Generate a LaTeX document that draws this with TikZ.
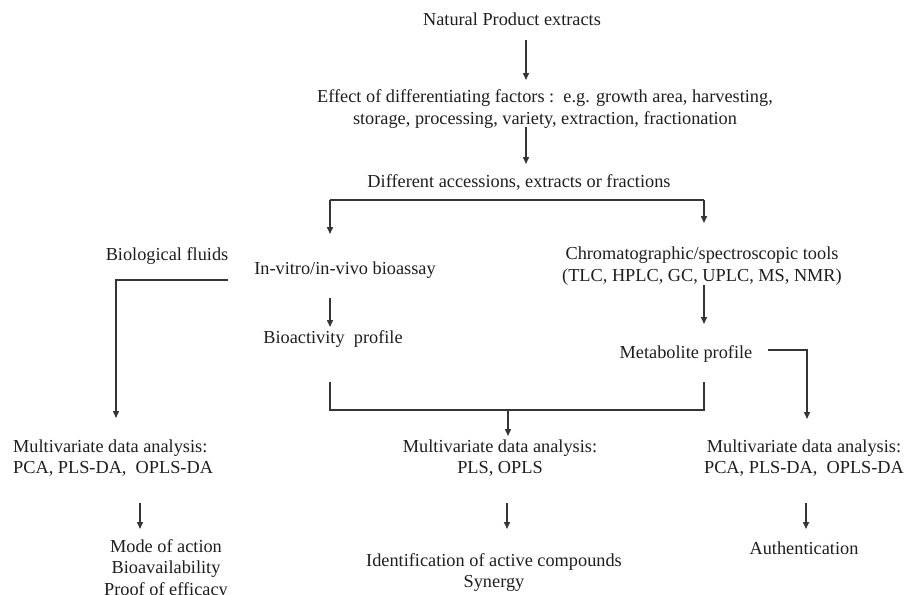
\documentclass[tikz,border=0pt]{standalone}
\usepackage{fontspec}
\setmainfont{Liberation Serif}
\usetikzlibrary{arrows.meta}
\definecolor{ink}{HTML}{1E1E1E}
\tikzset{
  lbl/.style={inner sep=0pt, text=ink, font=\fontsize{18.3}{21.5}\selectfont},
  lblc/.style={lbl, align=center},
  ln/.style={draw=ink!90, line width=1.5pt},
  arr/.style={ln, -{Triangle[length=7pt,width=6pt]}}
}
\begin{document}
\begin{tikzpicture}[x=1pt,y=-1pt]
\useasboundingbox (0,0) rectangle (906,595);
% texts
\node[lbl] (npe) at (512,19) {Natural Product extracts};
\node[lblc] (eff) at (545,109) {Effect of differentiating factors :\ \ e.g. growth area, harvesting,\\ storage, processing, variety, extraction, fractionation};
\node[lbl] (diff) at (519,182) {Different accessions, extracts or fractions};
\node[lbl] (fluid) at (167,256) {Biological fluids};
\node[lbl] (assay) at (345,270) {In-vitro/in-vivo bioassay};
\node[lblc] (chrom) at (702,266) {Chromatographic/spectroscopic tools\\(TLC, HPLC, GC, UPLC, MS, NMR)};
\node[lbl] (bact) at (333,339) {Bioactivity\ \ profile};
\node[lbl] (metab) at (686,354) {Metabolite profile};
\node[lbl, align=left, anchor=west] (mva1) at (13,458) {Multivariate data analysis:\\PCA, PLS-DA,\ \ OPLS-DA};
\node[lblc] (mva2) at (500,458) {Multivariate data analysis:\\PLS, OPLS};
\node[lblc] (mva3) at (804,458) {Multivariate data analysis:\\PCA, PLS-DA,\ \ OPLS-DA};
\node[lblc, anchor=north] (mode) at (166,539) {Mode of action\\Bioavailability\\Proof of efficacy};
\node[lblc, anchor=north] (ident) at (494,553) {Identification of active compounds\\Synergy};
\node[lbl] (auth) at (804,548) {Authentication};
% coordinates
\coordinate (a1s) at (526,40);  \coordinate (a1e) at (526,80);
\coordinate (a2s) at (526,127); \coordinate (a2e) at (526,164);
\coordinate (bl) at (330,200);  \coordinate (br) at (704,200);
\coordinate (ble) at (330,234); \coordinate (bre) at (704,223);
\coordinate (fs) at (228,280);  \coordinate (fc) at (116,280); \coordinate (fe) at (116,418);
\coordinate (a3s) at (330,298); \coordinate (a3e) at (330,327);
\coordinate (a4s) at (704,285); \coordinate (a4e) at (704,324);
\coordinate (m1) at (330,382); \coordinate (m2) at (330,410);
\coordinate (m3) at (704,410); \coordinate (m4) at (704,382);
\coordinate (ms) at (508,410); \coordinate (me) at (508,436);
\coordinate (rs) at (768,350); \coordinate (rc) at (807,350); \coordinate (re) at (807,419);
\coordinate (b1s) at (140,503); \coordinate (b1e) at (140,529);
\coordinate (b2s) at (507,503); \coordinate (b2e) at (507,529);
\coordinate (b3s) at (806,503); \coordinate (b3e) at (806,529);
% connectors
\draw[arr] (a1s) -- (a1e);
\draw[arr] (a2s) -- (a2e);
\draw[ln] (bl) -- (br);
\draw[arr] (bl) -- (ble);
\draw[arr] (br) -- (bre);
\draw[arr] (fs) -- (fc) -- (fe);
\draw[arr] (a3s) -- (a3e);
\draw[arr] (a4s) -- (a4e);
\draw[ln] (m1) -- (m2) -- (m3) -- (m4);
\draw[arr] (ms) -- (me);
\draw[arr] (rs) -- (rc) -- (re);
\draw[arr] (b1s) -- (b1e);
\draw[arr] (b2s) -- (b2e);
\draw[arr] (b3s) -- (b3e);
\end{tikzpicture}
\end{document}
